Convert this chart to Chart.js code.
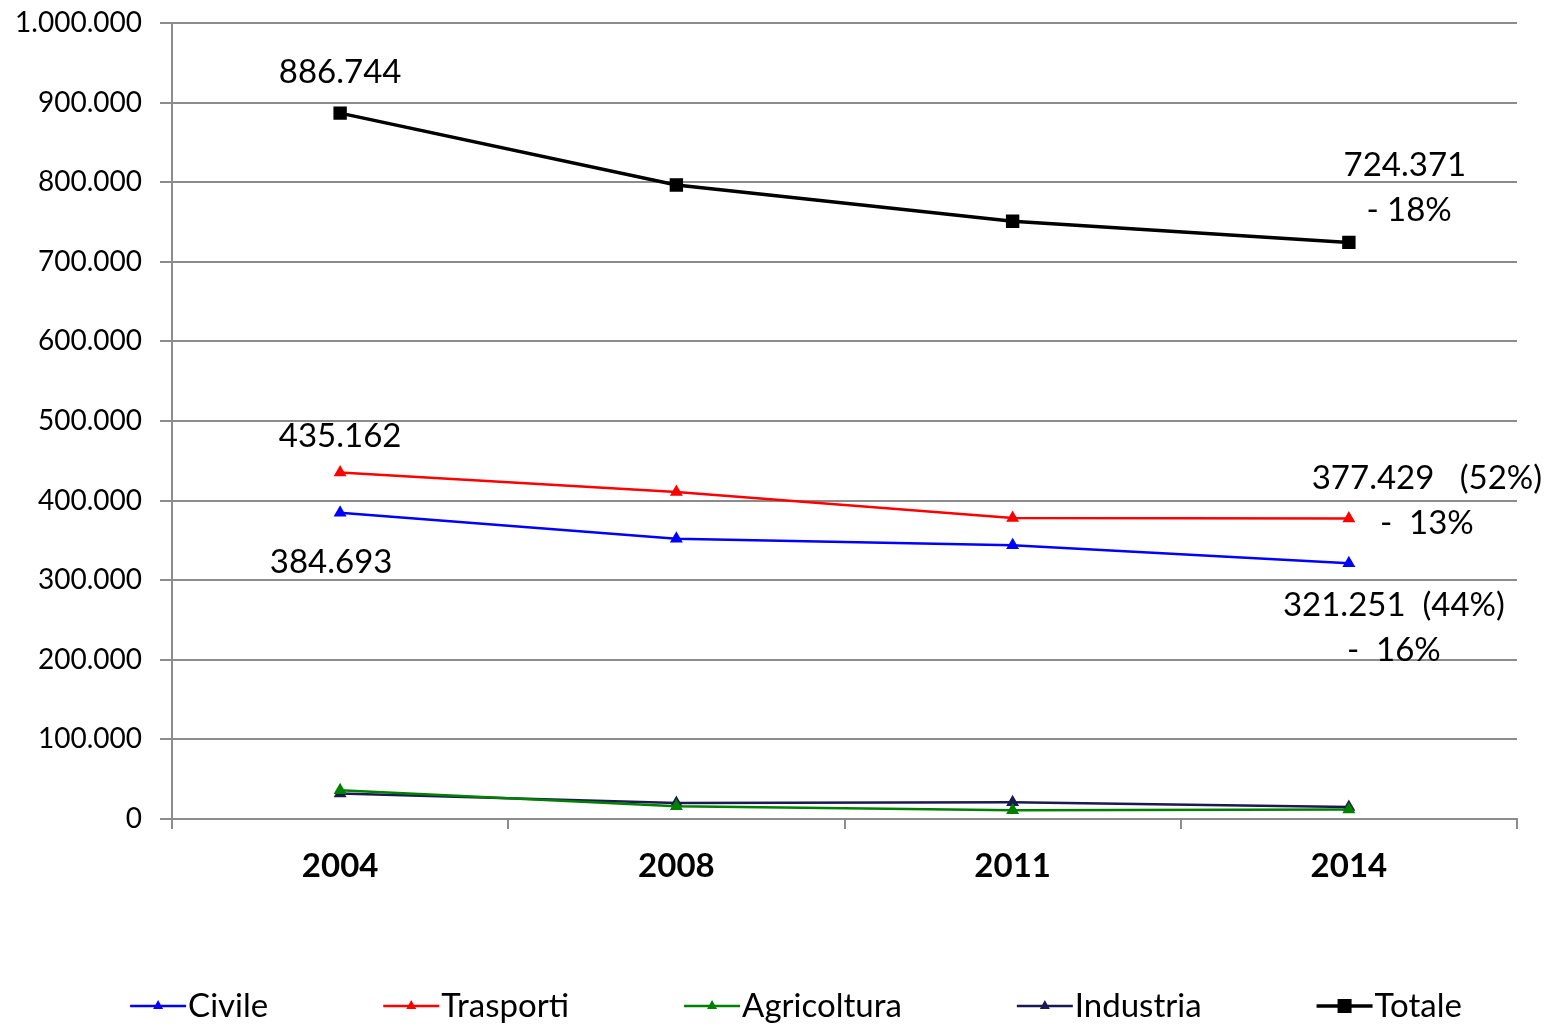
<!DOCTYPE html>
<html><head><meta charset="utf-8">
<script src="https://cdn.jsdelivr.net/npm/chart.js@4"></script>
<style>html,body{margin:0;padding:0;background:#fff}</style>
</head><body>
<canvas id="c" width="1549" height="1025"></canvas>
<script>
const years = ['2004', '2008', '2011', '2014'];
const civile = [384693, 352000, 344000, 321251];
const trasporti = [435162, 410800, 378000, 377429];
const agricoltura = [36000, 16000, 11000, 12000];
const industria = [32000, 20000, 21000, 15000];
const totale = [886744, 796500, 751000, 724371];
const seriesNames = ['Civile', 'Trasporti', 'Agricoltura', 'Industria', 'Totale'];

// annotation texts (per dataset, per point)
const civileNotes = [['384.693'], null, null, ['321.251  (44%)', '-  16%']];
const trasportiNotes = [['435.162'], null, null, ['377.429   (52%)', '-  13%']];
const totaleNotes = [['886.744'], null, null, ['724.371', ' - 18%']];

const FONT = 'Lato, "Open Sans", sans-serif';

function fmt(v) {
  return String(Math.round(v)).replace(/\B(?=(\d{3})+(?!\d))/g, '.');
}

// note placement (pixel offsets of first line centre from point, line spacing)
const noteLayout = {
  0: {0: [-9, 50], 3: [45, 42]},
  1: {0: [0, -36], 3: [78, -40]},
  4: {0: [0, -41], 3: [56, -77]}
};

const notesPlugin = {
  id: 'notes',
  afterDatasetsDraw(chart) {
    const ctx = chart.ctx;
    ctx.save();
    ctx.font = '33px ' + FONT;
    ctx.fillStyle = '#000';
    ctx.textAlign = 'center';
    ctx.textBaseline = 'middle';
    chart.data.datasets.forEach((ds, di) => {
      if (!ds.notes) return;
      const meta = chart.getDatasetMeta(di);
      ds.notes.forEach((lines, i) => {
        if (!lines) return;
        const pt = meta.data[i];
        const off = noteLayout[di][i];
        lines.forEach((t, k) => {
          ctx.fillText(t, pt.x + off[0], pt.y + off[1] + k * 45);
        });
      });
    });
    ctx.restore();
  }
};

const legendPlugin = {
  id: 'customLegend',
  afterDraw(chart) {
    const ctx = chart.ctx;
    ctx.save();
    ctx.font = '33px ' + FONT;
    ctx.textBaseline = 'middle';
    const lineLen = 56, gap = 115, y = 1006;
    const items = chart.data.datasets.map(ds => ({ds, w: lineLen + 2 + ctx.measureText(ds.label).width}));
    const total = items.reduce((a, b) => a + b.w, 0) + gap * (items.length - 1);
    let x = 796 - total / 2;
    items.forEach(({ds, w}) => {
      ctx.strokeStyle = ds.borderColor;
      ctx.lineWidth = ds.borderWidth;
      ctx.beginPath(); ctx.moveTo(x, y); ctx.lineTo(x + lineLen, y); ctx.stroke();
      ctx.fillStyle = ds.borderColor;
      const cx = x + lineLen / 2;
      if (ds.pointStyle === 'rect') {
        ctx.fillRect(cx - 7, y - 7, 14, 14);
      } else {
        ctx.beginPath();
        ctx.moveTo(cx, y - 6); ctx.lineTo(cx + 5, y + 3); ctx.lineTo(cx - 5, y + 3); ctx.closePath(); ctx.fill();
      }
      ctx.fillStyle = '#000';
      ctx.textAlign = 'left';
      ctx.fillText(ds.label, x + lineLen + 2, y);
      x += w + gap;
    });
    ctx.restore();
  }
};

function lineDs(label, data, color, notes) {
  return {
    label, data, notes,
    borderColor: color, backgroundColor: color,
    borderWidth: 2.5, pointStyle: 'triangle', pointRadius: 5, pointHoverRadius: 5,
    tension: 0
  };
}

new Chart(document.getElementById('c'), {
  type: 'line',
  data: {
    labels: years,
    datasets: [
      lineDs(seriesNames[0], civile, '#0000ff', civileNotes),
      lineDs(seriesNames[1], trasporti, '#ff0000', trasportiNotes),
      lineDs(seriesNames[2], agricoltura, '#008000', null),
      lineDs(seriesNames[3], industria, '#1a1a50', null),
      {
        label: seriesNames[4], data: totale, notes: totaleNotes,
        borderColor: '#000', backgroundColor: '#000', borderWidth: 3.5,
        pointStyle: 'rect', pointRadius: 7, pointHoverRadius: 7, tension: 0
      }
    ]
  },
  options: {
    responsive: false,
    devicePixelRatio: 1,
    animation: false,
    layout: {padding: {left: 0, right: 32, top: 23, bottom: 0}},
    plugins: {legend: {display: false}, tooltip: {enabled: false}},
    scales: {
      x: {
        type: 'category',
        offset: true,
        grid: {display: true, drawOnChartArea: false, drawTicks: true, tickLength: 10, offset: true, color: '#8c8c8c', lineWidth: 2},
        border: {color: '#8c8c8c', width: 2},
        ticks: {color: '#000', font: {family: FONT, size: 33, weight: 'bold'}, padding: 18},
        afterFit(s) { s.height = 1025 - 819; s.paddingLeft = 0; s.paddingRight = 0; }
      },
      y: {
        min: 0, max: 1000000,
        grid: {color: '#8c8c8c', lineWidth: 2, drawTicks: true, tickLength: 12},
        border: {color: '#8c8c8c', width: 2},
        ticks: {stepSize: 100000, color: '#000', font: {family: FONT, size: 28}, padding: 18, callback: v => fmt(v)},
        afterFit(s) { s.width = 172; s.paddingTop = 0; s.paddingBottom = 0; }
      }
    }
  },
  plugins: [notesPlugin, legendPlugin]
});
</script>
</body></html>
